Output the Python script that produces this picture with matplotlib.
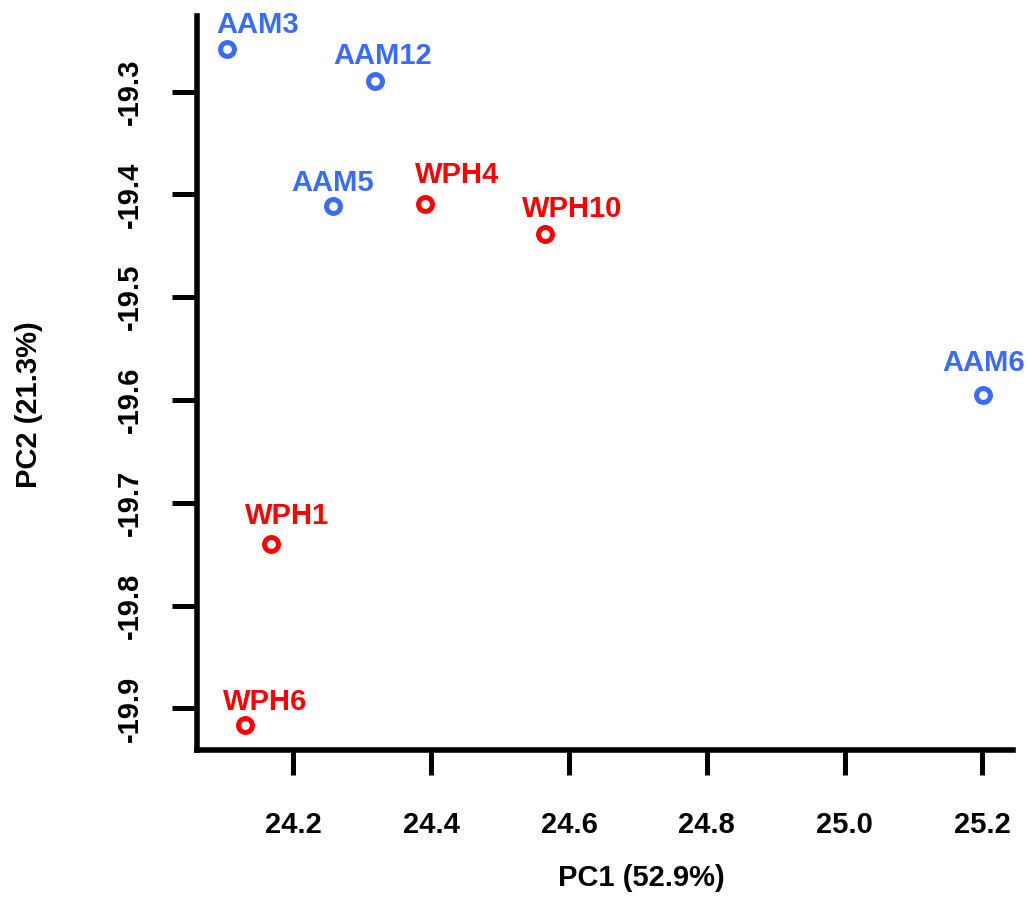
import matplotlib
matplotlib.use('Agg')
import matplotlib.pyplot as plt

plt.rcParams['font.family'] = ['Liberation Sans', 'DejaVu Sans']
plt.rcParams['font.weight'] = 'bold'

# PCA scores per sample
samples = ['AAM3', 'AAM12', 'AAM5', 'WPH4', 'WPH10', 'AAM6', 'WPH1', 'WPH6']
pc1 = [24.103, 24.319, 24.257, 24.391, 24.565, 25.201, 24.168, 24.129]
pc2 = [-19.259, -19.290, -19.411, -19.409, -19.438, -19.595, -19.740, -19.916]
group = ['AAM', 'AAM', 'AAM', 'WPH', 'WPH', 'AAM', 'WPH', 'WPH']

xticks = [24.2, 24.4, 24.6, 24.8, 25.0, 25.2]
yticks = [-19.3, -19.4, -19.5, -19.6, -19.7, -19.8, -19.9]

colors = {'AAM': '#3A6BFF', 'WPH': '#FF0000'}
# label nudges (pixels) so names sit clear of each other
nudge = [(31, 16), (7, 17), (0, 15), (32, 21), (27, 17), (1, 24), (16, 20), (21, 15)]

fig = plt.figure(figsize=(10.32, 9.02), dpi=100)
ax = fig.add_axes([0.1909, 0.1685, 0.7907, 0.8138])

for x, y, name, g, (dx, dy) in zip(pc1, pc2, samples, group, nudge):
    c = colors[g]
    ax.plot(x, y, 'o', ms=10, mfc='white', mec=c, mew=3.6, clip_on=False)
    ax.annotate(name, (x, y), xytext=(dx, dy), textcoords='offset pixels',
                ha='center', va='baseline', color=c, fontsize=21,
                fontweight='bold', annotation_clip=False)

ax.set_xlim(24.060, 25.2446)
ax.set_ylim(-19.9404, -19.2264)
ax.set_xticks(xticks)
ax.set_xticklabels([f'{t:.1f}' for t in xticks])
ax.set_yticks(yticks)
ax.set_yticklabels([f'{t:.1f}' for t in yticks], rotation=90, va='center')

for side in ['top', 'right']:
    ax.spines[side].set_visible(False)
for side in ['left', 'bottom']:
    ax.spines[side].set_linewidth(4)
ax.tick_params(axis='both', length=18, width=3.6, labelsize=21, direction='out')
ax.tick_params(axis='x', pad=26)
ax.tick_params(axis='y', pad=20)

ax.set_xlabel('PC1 (52.9%)', fontsize=21, fontweight='bold')
ax.set_ylabel('PC2 (21.3%)', fontsize=21, fontweight='bold')
ax.xaxis.set_label_coords(0.545, -0.155)
ax.yaxis.set_label_coords(-0.189, 0.470)

fig.savefig('out.png', dpi=100, facecolor='white')
